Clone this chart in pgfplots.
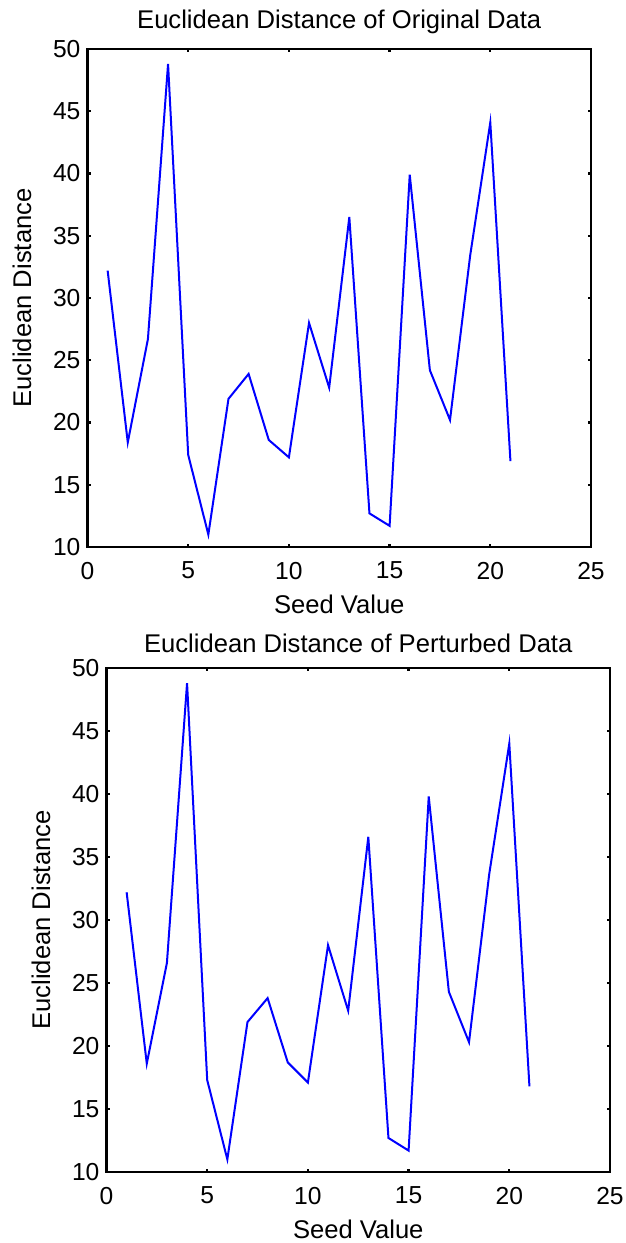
\documentclass[border=0pt]{standalone}
\usepackage{pgfplots}
\pgfplotsset{compat=1.18}
\usepackage{fontspec}
\setmainfont{Liberation Sans}

\pgfplotstableread{
seed dist
1 32.2
2 18.4
3 26.7
4 48.8
5 17.4
6 11.0
7 21.9
8 23.9
9 18.6
10 17.2
11 28.0
12 22.8
13 36.5
14 12.7
15 11.7
16 39.9
17 24.2
18 20.2
19 33.4
20 44.1
21 16.9
}\orig

\pgfplotstableread{
seed dist
1 32.2
2 18.6
3 26.6
4 48.8
5 17.3
6 11.0
7 21.9
8 23.8
9 18.7
10 17.1
11 28.0
12 22.8
13 36.6
14 12.7
15 11.7
16 39.8
17 24.3
18 20.3
19 33.6
20 44.0
21 16.8
}\pert

\pgfplotsset{
  matlab/.style={
    scale only axis,
    width=251.75pt,
    xmin=0, xmax=25, ymin=10, ymax=50,
    xtick={0,5,...,25}, ytick={10,15,...,50},
    tick align=inside,
    major tick length=1.6pt,
    axis line style={black, line width=1.2pt},
    every tick/.style={black, line width=1.2pt},
    after end axis/.code={
      \draw[black, line width=1.2pt] (rel axis cs:0,0) rectangle (rel axis cs:1,1);
    },
    tick label style={font=\fontsize{12.3}{14}\selectfont},
    xticklabel style={yshift=-4pt},
    label style={font=\fontsize{12.8}{15}\selectfont},
    xlabel style={yshift=-1pt},
    title style={font=\fontsize{12.8}{15}\selectfont, yshift=-2pt},
    /pgf/number format/assume math mode=true,
    xlabel={Seed Value},
    ylabel={Euclidean Distance},
    ylabel style={yshift=4pt},
  }
}

\begin{document}
\begin{tikzpicture}
\useasboundingbox (0,0) rectangle (313pt,621.5pt);
\begin{axis}[matlab, at={(43.75pt,348pt)}, anchor=south west, height=249pt,
  title={Euclidean Distance of Original Data}]
\addplot[blue, line width=1pt] table[x=seed, y=dist] {\orig};
\end{axis}
\begin{axis}[matlab, at={(53.25pt,35.5pt)}, anchor=south west, height=252pt,
  title={Euclidean Distance of Perturbed Data}]
\addplot[blue, line width=1pt] table[x=seed, y=dist] {\pert};
\end{axis}
\end{tikzpicture}
\end{document}
